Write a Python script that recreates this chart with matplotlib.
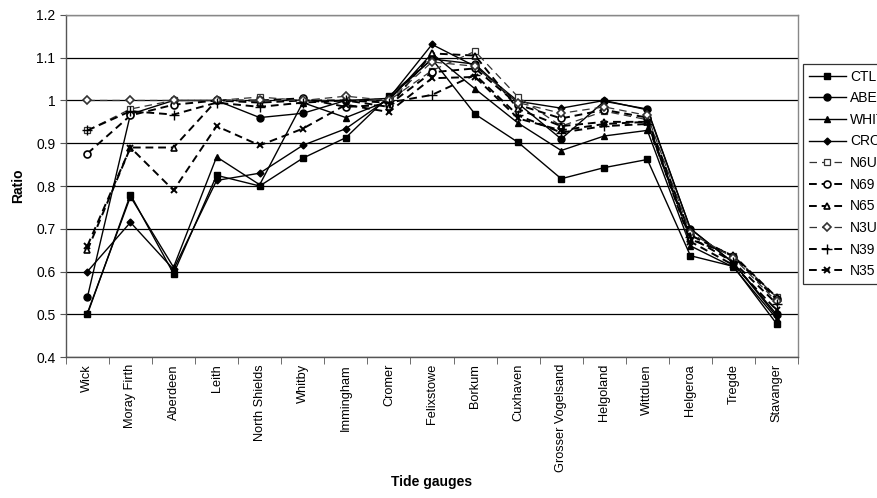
import matplotlib
matplotlib.use('Agg')
import matplotlib.pyplot as plt

plt.rcParams['font.family'] = ['Liberation Sans', 'DejaVu Sans']

gauges = ['Wick', 'Moray Firth', 'Aberdeen', 'Leith', 'North Shields', 'Whitby',
          'Immingham', 'Cromer', 'Felixstowe', 'Borkum', 'Cuxhaven',
          'Grosser Vogelsand', 'Helgoland', 'Wittduen', 'Helgeroa', 'Tregde',
          'Stavanger']

ctl = [0.50, 0.78, 0.595, 0.825, 0.80, 0.865, 0.913, 1.01, 1.097, 0.968, 0.902,
       0.817, 0.843, 0.862, 0.637, 0.612, 0.478]
abe = [0.54, 0.968, 1.0, 1.0, 0.96, 0.97, 1.0, 1.005, 1.097, 1.085, 0.993,
       0.91, 0.998, 0.98, 0.70, 0.62, 0.50]
whi = [0.503, 0.775, 0.61, 0.868, 0.803, 0.995, 0.96, 1.0, 1.11, 1.027, 0.947,
       0.883, 0.917, 0.93, 0.66, 0.61, 0.49]
cro = [0.60, 0.715, 0.605, 0.813, 0.83, 0.895, 0.934, 1.005, 1.131, 1.08, 0.998,
       0.982, 1.0, 0.978, 0.70, 0.62, 0.495]
n6u = [0.93, 0.98, 1.0, 1.0, 1.008, 1.0, 1.0, 1.0, 1.07, 1.115, 1.008,
       0.94, 0.975, 0.955, 0.685, 0.637, 0.54]
n69 = [0.876, 0.965, 0.99, 1.0, 1.0, 1.005, 0.985, 0.99, 1.066, 1.075, 0.99,
       0.958, 0.978, 0.96, 0.685, 0.635, 0.535]
n65 = [0.65, 0.89, 0.89, 1.0, 0.995, 1.0, 1.0, 0.985, 1.11, 1.105, 0.98,
       0.94, 0.95, 0.95, 0.675, 0.638, 0.54]
n3u = [1.0, 1.0, 1.0, 1.0, 1.0, 1.0, 1.01, 1.0, 1.09, 1.08, 0.995,
       0.97, 0.985, 0.965, 0.69, 0.632, 0.53]
n39 = [0.93, 0.975, 0.967, 0.995, 0.985, 0.995, 1.0, 0.995, 1.013, 1.06, 0.965,
       0.925, 0.94, 0.945, 0.68, 0.622, 0.525]
n35 = [0.66, 0.89, 0.79, 0.94, 0.895, 0.934, 0.99, 0.973, 1.052, 1.055, 0.958,
       0.93, 0.945, 0.95, 0.67, 0.615, 0.51]

x = list(range(len(gauges)))

fig = plt.figure(figsize=(8.78, 4.98), dpi=100)
ax = fig.add_axes([0.075, 0.283, 0.834, 0.687])

solid = dict(color='black', lw=1.0, linestyle='-')
dash = dict(color='black', lw=1.4, linestyle=(0, (4, 2.5)))
thin = dict(color='#333333', lw=0.9, linestyle=(0, (6, 4)))

ax.plot(x, ctl, marker='s', ms=5, label='CTL', **solid)
ax.plot(x, abe, marker='o', ms=5, label='ABER', **solid)
ax.plot(x, whi, marker='^', ms=5, label='WHIT', **solid)
ax.plot(x, cro, marker='D', ms=3.5, label='CROM', **solid)
ax.plot(x, n6u, marker='s', ms=5, mfc='white', mew=0.9, label='N6U', **thin)
ax.plot(x, n69, marker='o', ms=5, mfc='white', mew=1.2, label='N69', **dash)
ax.plot(x, n65, marker='^', ms=5, mfc='white', mew=1.2, label='N65', **dash)
ax.plot(x, n3u, marker='D', ms=4, mfc='white', mew=1.2, label='N3U', **thin)
ax.plot(x, n39, marker='+', ms=7, mew=1.0, label='N39', **dash)
ax.plot(x, n35, marker='x', ms=5, mew=1.4, label='N35', **dash)

ax.set_xlim(-0.5, len(gauges) - 0.5)
ax.set_ylim(0.4, 1.2)
ax.set_yticks([0.4, 0.5, 0.6, 0.7, 0.8, 0.9, 1.0, 1.1, 1.2])
ax.set_yticklabels(['0.4', '0.5', '0.6', '0.7', '0.8', '0.9', '1', '1.1', '1.2'],
                   fontsize=10)
ax.yaxis.grid(True, color='black', lw=0.9)
ax.set_axisbelow(True)

# category labels centred, tick marks on the category boundaries
ax.set_xticks(x)
ax.set_xticklabels(gauges, rotation=90, fontsize=9.2)
ax.tick_params(axis='x', length=0, pad=5)
ax.set_xticks([i - 0.5 for i in range(len(gauges) + 1)], minor=True)
ax.tick_params(axis='x', which='minor', length=5, direction='out', color='#555555')
ax.tick_params(axis='y', length=4, direction='out', color='#555555')

for side in ['left', 'bottom', 'right', 'top']:
    ax.spines[side].set_color('#888888')
    ax.spines[side].set_linewidth(1.0)
ax.spines['left'].set_color('#555555')
ax.spines['bottom'].set_color('#555555')

ax.set_xlabel('Tide gauges', fontsize=10, fontweight='bold', labelpad=2)
ax.set_ylabel('Ratio', fontsize=10, fontweight='bold', labelpad=8)

leg = ax.legend(loc='upper left', bbox_to_anchor=(803 / 878, 1 - 64 / 498),
                bbox_transform=fig.transFigure, borderaxespad=0, fontsize=10,
                frameon=True, fancybox=False, edgecolor='black',
                handlelength=2.7, handletextpad=0.3, labelspacing=0.55,
                borderpad=0.4)
leg.get_frame().set_linewidth(0.9)

fig.savefig('out.png', dpi=100)
